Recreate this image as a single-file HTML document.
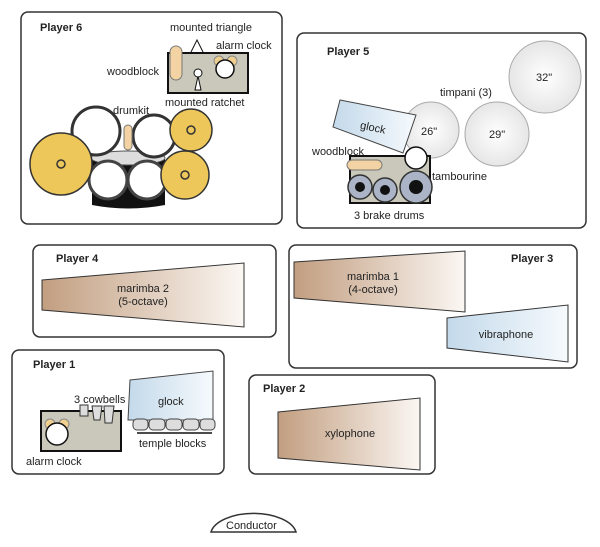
<!DOCTYPE html>
<html><head><meta charset="utf-8"><style>body{margin:0;background:#fff}svg{display:block}text{font-family:"Liberation Sans",sans-serif;font-size:11px;fill:#222}</style></head><body>
<svg width="600" height="547" viewBox="0 0 600 547">
<defs>
<linearGradient id="br" x1="0" x2="1"><stop offset="0" stop-color="#c29e80"/><stop offset="1" stop-color="#fbf7f3"/></linearGradient>
<linearGradient id="bl" x1="0" x2="1"><stop offset="0" stop-color="#c3d9ea"/><stop offset="1" stop-color="#f6fafd"/></linearGradient>
<radialGradient id="tm"><stop offset="0" stop-color="#fff"/><stop offset="1" stop-color="#e6e6e6"/></radialGradient>
</defs>
<g fill="#fff" stroke="#333" stroke-width="1.5">
<rect x="21" y="12" width="261" height="212" rx="7"/>
<rect x="297" y="33" width="289" height="195" rx="7"/>
<rect x="33" y="245" width="243" height="92" rx="7"/>
<rect x="289" y="245" width="288" height="123" rx="7"/>
<rect x="12" y="350" width="212" height="124" rx="7"/>
<rect x="249" y="375" width="186" height="99" rx="7"/>
<path d="M211 532 A43 22 0 0 1 296 532 Z"/>
</g>
<g font-weight="bold"><text x="40" y="31">Player 6</text><text x="327" y="55">Player 5</text><text x="56" y="262">Player 4</text><text x="511" y="262">Player 3</text><text x="33" y="368">Player 1</text><text x="263" y="392">Player 2</text></g>
<text x="226" y="529">Conductor</text>
<!-- Player 6 -->
<rect x="168" y="53" width="80" height="40" fill="#c9c8ba" stroke="#111" stroke-width="2"/>
<path d="M191 52 L197 40 L203 52" fill="#fff" stroke="#111"/>
<rect x="170" y="46" width="12" height="34" rx="6" fill="#f3d3a3" stroke="#777"/>
<path d="M195 90 L198 76 L201 90Z" fill="#fff" stroke="#111"/><circle cx="198" cy="73" r="4" fill="#fff" stroke="#111"/>
<circle cx="219" cy="61" r="5" fill="#eecf8f" stroke="#888"/><circle cx="232" cy="61" r="5" fill="#eecf8f" stroke="#888"/><circle cx="225" cy="69" r="9" fill="#fff" stroke="#111" stroke-width="1.5"/>
<text x="170" y="31">mounted triangle</text><text x="216" y="49">alarm clock</text><text x="107" y="75">woodblock</text><text x="165" y="106">mounted ratchet</text><text x="113" y="114">drumkit</text>
<path d="M92 158 L165 158 L165 205 Q128 212 92 205Z" fill="#111"/>
<ellipse cx="128" cy="158" rx="37" ry="7" fill="#ddd" stroke="#555"/>
<circle cx="96" cy="131" r="24" fill="#fff" stroke="#333" stroke-width="3"/>
<circle cx="154" cy="136" r="21" fill="#fff" stroke="#333" stroke-width="3"/>
<rect x="124" y="125" width="8" height="25" rx="4" fill="#f3d3a3" stroke="#777"/>
<circle cx="108" cy="180" r="19" fill="#fff" stroke="#444" stroke-width="3"/><circle cx="147" cy="180" r="19" fill="#fff" stroke="#444" stroke-width="3"/>
<g fill="#edc75a" stroke="#333" stroke-width="1.5"><circle cx="61" cy="164" r="31"/><circle cx="191" cy="130" r="21"/><circle cx="185" cy="175" r="24"/></g>
<g fill="none" stroke="#333" stroke-width="1.5"><circle cx="61" cy="164" r="4"/><circle cx="191" cy="130" r="4"/><circle cx="185" cy="175" r="4"/></g>
<!-- Player 5 -->
<g fill="url(#tm)" stroke="#aaa"><circle cx="545" cy="77" r="36"/><circle cx="497" cy="134" r="32"/><circle cx="431" cy="130" r="28"/></g>
<text x="536" y="81">32"</text><text x="489" y="138">29"</text><text x="421" y="135">26"</text><text x="440" y="96">timpani (3)</text>
<polygon points="340,100 416,115 403,153 333,127" fill="url(#bl)" stroke="#444"/>
<text x="360" y="131" transform="rotate(12 372 128)">glock</text>
<rect x="350" y="156" width="80" height="47" fill="#c9c8ba" stroke="#111" stroke-width="2"/>
<rect x="347" y="160" width="35" height="10" rx="5" fill="#f3d3a3" stroke="#777"/>
<circle cx="416" cy="158" r="11" fill="#fff" stroke="#111" stroke-width="1.5"/>
<g stroke="#333" stroke-width="1.5"><circle cx="360" cy="187" r="12" fill="#aab4c6"/><circle cx="385" cy="190" r="12" fill="#aab4c6"/><circle cx="416" cy="187" r="16" fill="#aab4c6"/></g>
<g fill="#111"><circle cx="360" cy="187" r="5"/><circle cx="385" cy="190" r="5"/><circle cx="416" cy="187" r="7"/></g>
<text x="312" y="155">woodblock</text><text x="432" y="180">tambourine</text><text x="354" y="219">3 brake drums</text>
<!-- Player 4 / 3 / 2 -->
<polygon points="42,280 244,263 244,327 42,310" fill="url(#br)" stroke="#333"/>
<text x="143" y="292" text-anchor="middle">marimba 2</text><text x="143" y="305" text-anchor="middle">(5-octave)</text>
<polygon points="294,262 465,251 465,312 294,298" fill="url(#br)" stroke="#333"/>
<text x="373" y="280" text-anchor="middle">marimba 1</text><text x="373" y="293" text-anchor="middle">(4-octave)</text>
<polygon points="447,318 568,305 568,362 447,348" fill="url(#bl)" stroke="#333"/>
<text x="506" y="338" text-anchor="middle">vibraphone</text>
<polygon points="278,412 420,398 420,470 278,458" fill="url(#br)" stroke="#333"/>
<text x="350" y="437" text-anchor="middle">xylophone</text>
<!-- Player 1 -->
<rect x="41" y="411" width="80" height="40" fill="#c9c8ba" stroke="#111" stroke-width="2"/>
<g fill="#ddd" stroke="#333"><path d="M80 405h8v11h-8z"/><path d="M92 406h10l-2 14h-6z"/><path d="M104 406h10l-2 17h-7z"/></g>
<circle cx="50" cy="424" r="5" fill="#eecf8f" stroke="#888"/><circle cx="64" cy="424" r="5" fill="#eecf8f" stroke="#888"/><circle cx="57" cy="434" r="11" fill="#fff" stroke="#111" stroke-width="1.5"/>
<polygon points="130,380 213,371 213,420 128,420" fill="url(#bl)" stroke="#444"/>
<text x="158" y="405">glock</text>
<g fill="#ddd" stroke="#444"><rect x="133" y="419" width="15" height="11" rx="4"/><rect x="149" y="419" width="16" height="11" rx="4"/><rect x="166" y="419" width="16" height="11" rx="4"/><rect x="183" y="419" width="16" height="11" rx="4"/><rect x="200" y="419" width="15" height="11" rx="4"/></g>
<line x1="137" y1="433" x2="212" y2="433" stroke="#111" stroke-width="1.5"/>
<text x="74" y="403">3 cowbells</text><text x="139" y="447">temple blocks</text><text x="26" y="465">alarm clock</text>
</svg>
</body></html>
